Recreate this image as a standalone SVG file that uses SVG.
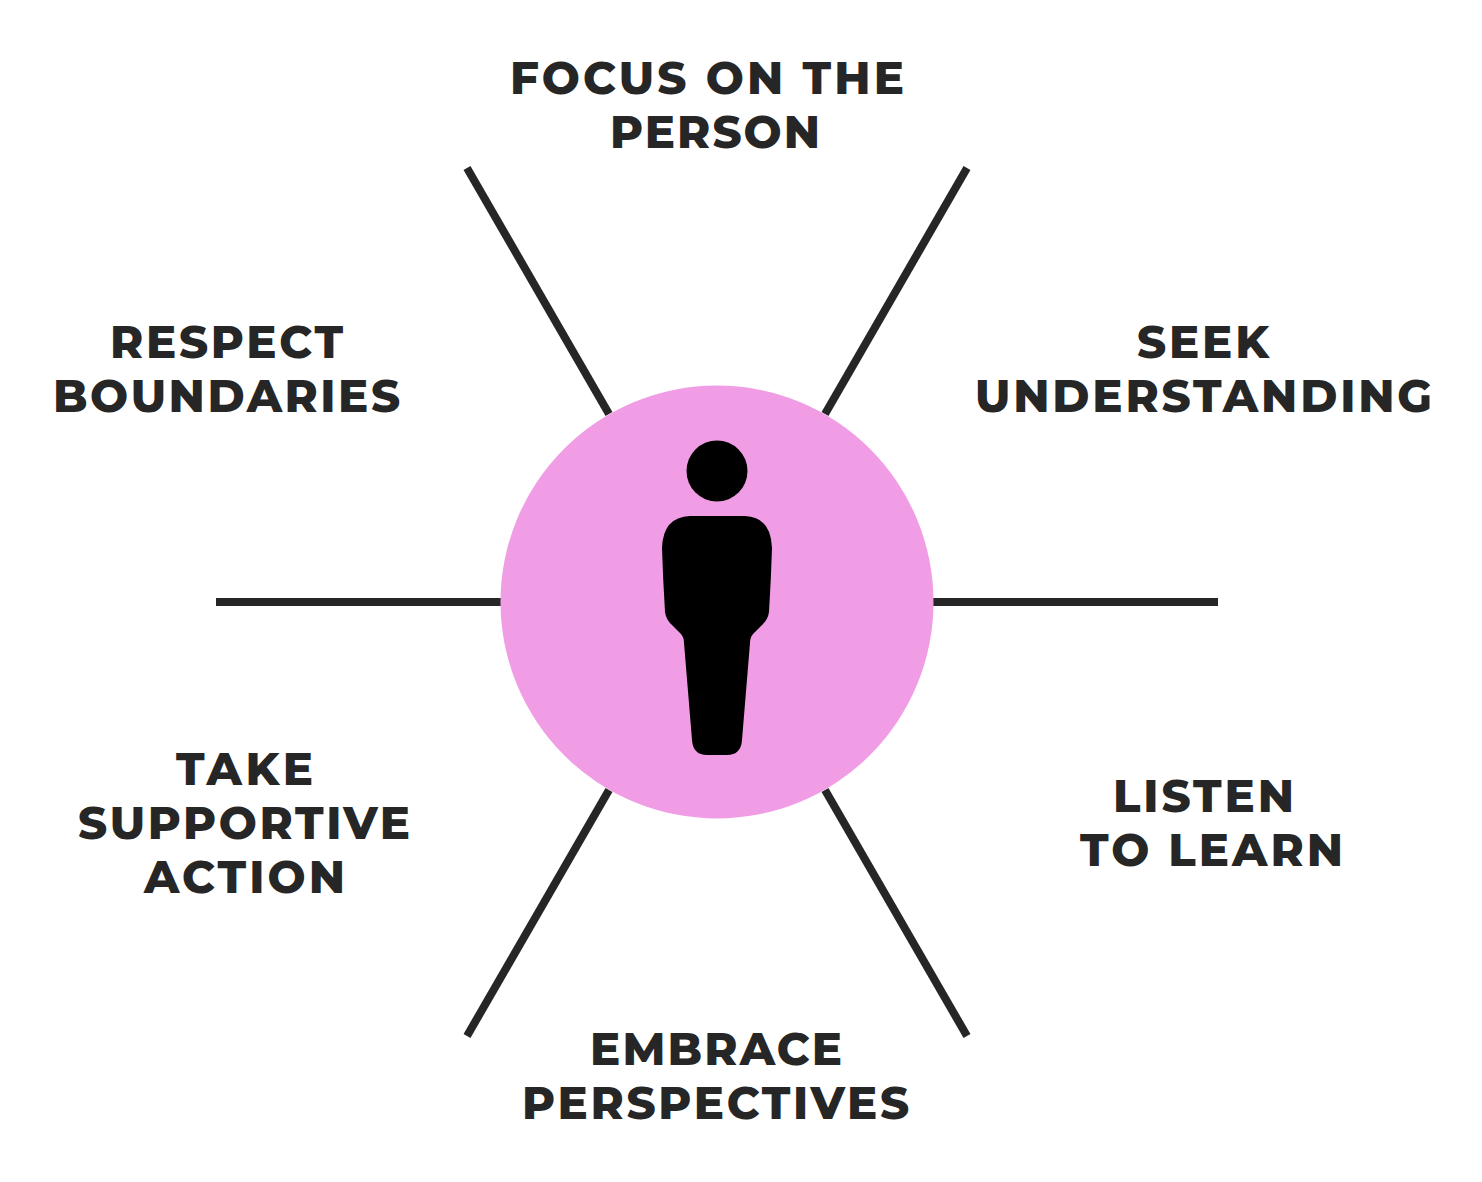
<svg xmlns="http://www.w3.org/2000/svg" width="1482" height="1182" viewBox="0 0 1482 1182">
<style>
.l{font-family:"Montserrat","Inter","Liberation Sans",sans-serif;font-weight:800;font-size:45px;fill:#262626}
.c{stroke:#262626;stroke-width:8;fill:none}
</style>
<rect width="1482" height="1182" fill="#fff"/>
<g id="connectors">
<line class="c" x1="467" y1="168" x2="609" y2="414"/>
<line class="c" x1="967" y1="168" x2="825" y2="414"/>
<line class="c" x1="216" y1="602" x2="502" y2="602"/>
<line class="c" x1="932" y1="602" x2="1218" y2="602"/>
<line class="c" x1="467" y1="1036" x2="609" y2="790"/>
<line class="c" x1="967" y1="1036" x2="825" y2="790"/>
</g>
<g id="center">
<circle cx="717" cy="602" r="216.5" fill="#f09de5"/>
<circle cx="717" cy="471" r="30.5" fill="#000"/>
<path fill="#000" d="M690 516H745Q771 517 772 548Q771 580 769 612Q768 620 761 626L755 632Q750 636 750 643L742 740Q741 755 727 755H707Q693 755 692 740L684 643Q684 636 679 632L673 626Q666 620 665 612Q663 580 662 548Q663 517 690 516Z"/>
</g>
<g id="focus"><text class="l" x="510" y="94" textLength="394">FOCUS ON THE</text><text class="l" x="610" y="148" textLength="210">PERSON</text></g>
<g id="respect"><text class="l" x="110" y="358" textLength="233">RESPECT</text><text class="l" x="53" y="412" textLength="347">BOUNDARIES</text></g>
<g id="seek"><text class="l" x="1137" y="358" textLength="132">SEEK</text><text class="l" x="975" y="412" textLength="457">UNDERSTANDING</text></g>
<g id="listen"><text class="l" x="1113" y="812" textLength="181">LISTEN</text><text class="l" x="1080" y="866" textLength="263">TO LEARN</text></g>
<g id="take"><text class="l" x="176" y="785" textLength="137">TAKE</text><text class="l" x="78" y="839" textLength="332">SUPPORTIVE</text><text class="l" x="144" y="893" textLength="201">ACTION</text></g>
<g id="embrace"><text class="l" x="590" y="1065" textLength="252">EMBRACE</text><text class="l" x="522" y="1119" textLength="387">PERSPECTIVES</text></g>
</svg>
